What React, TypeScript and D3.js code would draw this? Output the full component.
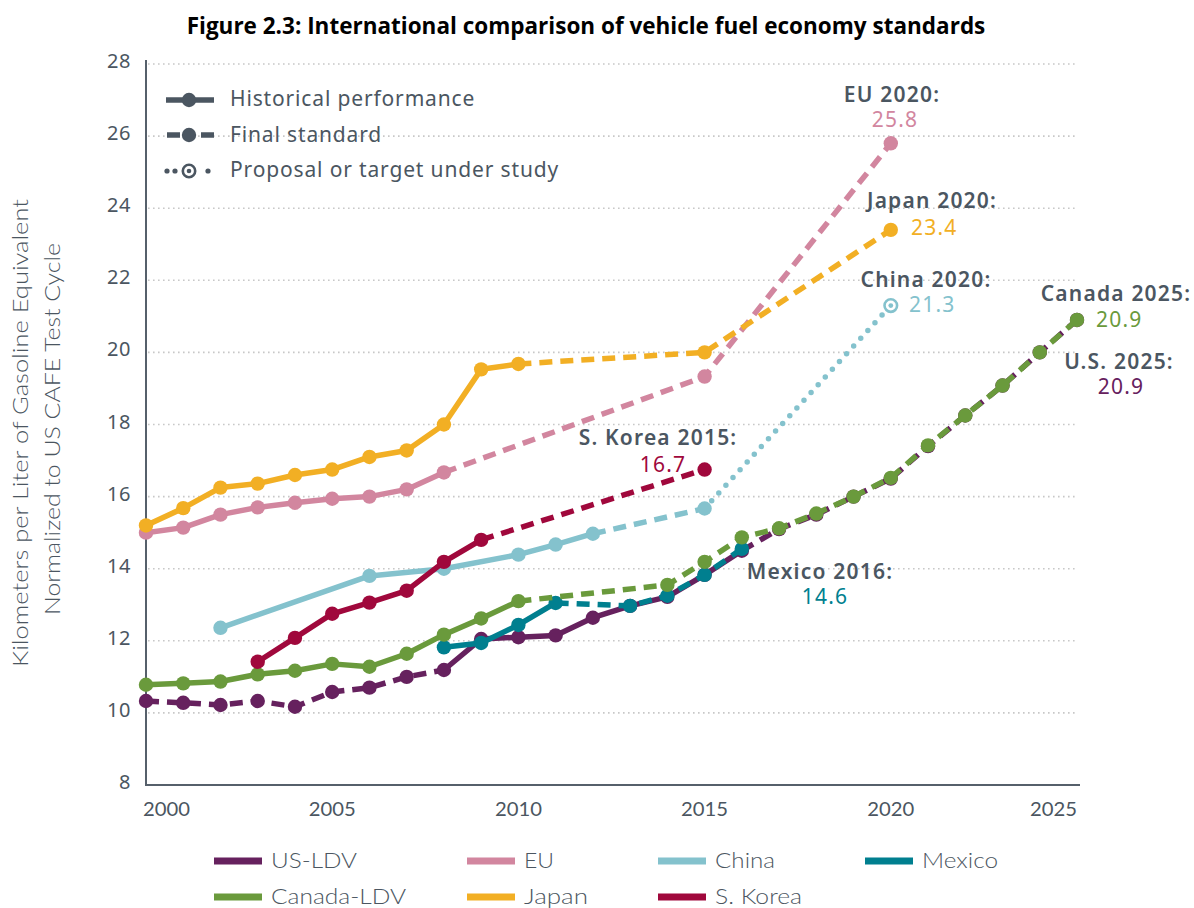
import React from 'react';
import * as d3 from 'd3';

const W = 1194;
const H = 908;

// ---------- data ----------
const usYears = [2000, 2001, 2002, 2003, 2004, 2005, 2006, 2007, 2008, 2009, 2010, 2011, 2012, 2013, 2014, 2015, 2016, 2017, 2018, 2019, 2020, 2021, 2022, 2023, 2024, 2025];
const usValues = [10.33, 10.28, 10.22, 10.33, 10.17, 10.58, 10.7, 11.0, 11.19, 12.05, 12.1, 12.15, 12.64, 12.97, 13.22, 13.83, 14.5, 15.1, 15.5, 16.0, 16.5, 17.4, 18.25, 19.08, 20.0, 20.9];
const usPhases: [string, number, number][] = [['dash', 2000, 2008], ['solid', 2008, 2016], ['dash', 2016, 2025]];

const euYears = [2000, 2001, 2002, 2003, 2004, 2005, 2006, 2007, 2008, 2015, 2020];
const euValues = [15.0, 15.14, 15.5, 15.7, 15.83, 15.94, 16.0, 16.2, 16.67, 19.33, 25.8];
const euPhases: [string, number, number][] = [['solid', 2000, 2008], ['dash', 2008, 2020]];

const chinaYears = [2002, 2006, 2008, 2010, 2011, 2012, 2015, 2020];
const chinaValues = [12.36, 13.8, 14.0, 14.39, 14.67, 14.97, 15.67, 21.3];
const chinaPhases: [string, number, number][] = [['solid', 2002, 2012], ['dash', 2012, 2015], ['dot', 2015, 2020]];

const mexicoYears = [2008, 2009, 2010, 2011, 2013, 2014, 2015, 2016];
const mexicoValues = [11.82, 11.94, 12.44, 13.05, 12.97, 13.25, 13.83, 14.55];
const mexicoPhases: [string, number, number][] = [['solid', 2008, 2011], ['dash', 2011, 2016]];

const canadaYears = [2000, 2001, 2002, 2003, 2004, 2005, 2006, 2007, 2008, 2009, 2010, 2014, 2015, 2016, 2017, 2018, 2019, 2020, 2021, 2022, 2023, 2024, 2025];
const canadaValues = [10.78, 10.82, 10.87, 11.07, 11.17, 11.36, 11.28, 11.64, 12.17, 12.62, 13.1, 13.55, 14.19, 14.87, 15.12, 15.53, 16.0, 16.52, 17.42, 18.25, 19.08, 20.0, 20.9];
const canadaPhases: [string, number, number][] = [['solid', 2000, 2010], ['dash', 2010, 2025]];

const japanYears = [2000, 2001, 2002, 2003, 2004, 2005, 2006, 2007, 2008, 2009, 2010, 2015, 2020];
const japanValues = [15.2, 15.68, 16.25, 16.36, 16.6, 16.75, 17.1, 17.28, 18.0, 19.53, 19.68, 20.0, 23.4];
const japanPhases: [string, number, number][] = [['solid', 2000, 2010], ['dash', 2010, 2020]];

const koreaYears = [2003, 2004, 2005, 2006, 2007, 2008, 2009, 2015];
const koreaValues = [11.42, 12.08, 12.75, 13.06, 13.39, 14.19, 14.8, 16.75];
const koreaPhases: [string, number, number][] = [['solid', 2003, 2009], ['dash', 2009, 2015]];

const yTicks = [8, 10, 12, 14, 16, 18, 20, 22, 24, 26, 28];
const xTicks = [2000, 2005, 2010, 2015, 2020, 2025];

const legendNames = ['US-LDV', 'EU', 'China', 'Mexico', 'Canada-LDV', 'Japan', 'S. Korea'];

const styleNames = ['Historical performance', 'Final standard', 'Proposal or target under study'];

const annotations = [
  { label: 'EU 2020:', value: '25.8', series: 'EU' },
  { label: 'Japan 2020:', value: '23.4', series: 'Japan' },
  { label: 'China 2020:', value: '21.3', series: 'China' },
  { label: 'Canada 2025:', value: '20.9', series: 'Canada-LDV' },
  { label: 'U.S. 2025:', value: '20.9', series: 'US-LDV' },
  { label: 'S. Korea 2015:', value: '16.7', series: 'S. Korea' },
  { label: 'Mexico 2016:', value: '14.6', series: 'Mexico' },
];

// ---------- styling ----------
const COLORS: Record<string, string> = {
  'US-LDV': '#66215e',
  'EU': '#d2869f',
  'China': '#84c2cd',
  'Mexico': '#007f8f',
  'Canada-LDV': '#6a9a3c',
  'Japan': '#f2af24',
  'S. Korea': '#a0083c',
};
const TEXT = '#4b5661';
const AXIS = '#56606b';
const GRID = '#c8c8c8';
const FONT = "'Noto Sans', 'Open Sans', sans-serif";
const COND = "Lato, 'Noto Sans', sans-serif";

type Series = { name: string; years: number[]; values: number[]; phases: [string, number, number][]; ring?: number };

const series: Series[] = [
  { name: 'EU', years: euYears, values: euValues, phases: euPhases },
  { name: 'China', years: chinaYears, values: chinaValues, phases: chinaPhases, ring: 2020 },
  { name: 'US-LDV', years: usYears, values: usValues, phases: usPhases },
  { name: 'Mexico', years: mexicoYears, values: mexicoValues, phases: mexicoPhases },
  { name: 'Canada-LDV', years: canadaYears, values: canadaValues, phases: canadaPhases },
  { name: 'S. Korea', years: koreaYears, values: koreaValues, phases: koreaPhases },
  { name: 'Japan', years: japanYears, values: japanValues, phases: japanPhases },
];

const LW = 5.5;
const R = 7.2;
const dashFor = (s: string) => (s === 'dash' ? '13 8' : s === 'dot' ? '0 10.5' : undefined);

export default function App() {
  const x = d3.scaleLinear().domain([2000, 2025]).range([146, 1077]);
  const y = d3.scaleLinear().domain([8, 28]).range([785, 64]);
  const line = d3
    .line<[number, number]>()
    .x((d) => x(d[0]))
    .y((d) => y(d[1]));

  // annotation placement (layout only)
  const annPos: Record<string, { lx: number; ly: number; vx: number; vy: number; va: string }> = {
    'EU': { lx: 892, ly: 102, vx: 895, vy: 127, va: 'middle' },
    'Japan': { lx: 932, ly: 208, vx: 911, vy: 235, va: 'start' },
    'China': { lx: 926, ly: 287, vx: 909, vy: 312, va: 'start' },
    'Canada-LDV': { lx: 1116, ly: 301, vx: 1096, vy: 327, va: 'start' },
    'US-LDV': { lx: 1119, ly: 369, vx: 1121, vy: 394, va: 'middle' },
    'S. Korea': { lx: 658, ly: 445, vx: 663, vy: 472, va: 'middle' },
    'Mexico': { lx: 820, ly: 579, vx: 825, vy: 604, va: 'middle' },
  };

  const legCols = [214, 467, 658, 865];
  const legRows = [861, 897];
  const legWidths: Record<string, number> = {
    'US-LDV': 86, 'EU': 30, 'China': 60, 'Mexico': 76, 'Canada-LDV': 135, 'Japan': 64, 'S. Korea': 87,
  };

  return (
    <svg width={W} height={H} style={{ position: 'absolute', left: 0, top: 0, background: '#fff' }}>
      <rect width={W} height={H} fill="#fff" />
      {/* title */}
      <text x={586} y={34} textAnchor="middle" fontFamily="'Open Sans', sans-serif" fontWeight={700} fontSize={22.5} fill="#000">
        Figure 2.3: International comparison of vehicle fuel economy standards
      </text>

      {/* gridlines */}
      {yTicks.filter((t) => t > 8).map((t) => (
        <line key={t} x1={148} x2={1078} y1={y(t)} y2={y(t)} stroke={GRID} strokeWidth={1.6} strokeDasharray="1.6 3.4" />
      ))}
      {/* y tick labels */}
      {yTicks.map((t) => (
        <text key={t} x={131} y={y(t) + 4} textAnchor="end" fontFamily={FONT} fontSize={20} letterSpacing={0.6} fill={TEXT}>
          {t}
        </text>
      ))}
      {/* axes */}
      <line x1={146} x2={146} y1={60} y2={786} stroke={AXIS} strokeWidth={2} />
      <line x1={145} x2={1080} y1={785} y2={785} stroke={AXIS} strokeWidth={2} />
      {/* x tick labels */}
      {xTicks.map((t, i) => (
        <text
          key={t}
          x={i === 0 ? x(t) - 3 : x(t)}
          y={816}
          textAnchor={i === 0 ? 'start' : i === xTicks.length - 1 ? 'end' : 'middle'}
          fontFamily={COND}
          fontSize={19.5}
          fill={TEXT}
          textLength={47}
          lengthAdjust="spacingAndGlyphs"
        >
          {t}
        </text>
      ))}

      {/* y axis title */}
      <g fontFamily={COND} fontSize={21} fill={TEXT} fontWeight={300}>
        <text transform="translate(28,433) rotate(-90)" textAnchor="middle" textLength={468} lengthAdjust="spacingAndGlyphs">
          Kilometers per Liter of Gasoline Equivalent
        </text>
        <text transform="translate(60,429) rotate(-90)" textAnchor="middle" textLength={372} lengthAdjust="spacingAndGlyphs">
          Normalized to US CAFE Test Cycle
        </text>
      </g>

      {/* style legend */}
      <g stroke={TEXT} fill={TEXT}>
        <line x1={166} x2={214} y1={100} y2={100} strokeWidth={LW} />
        <circle cx={189} cy={100} r={R} stroke="none" />
        <line x1={167} x2={180} y1={135} y2={135} strokeWidth={LW} />
        <line x1={201} x2={214} y1={135} y2={135} strokeWidth={LW} />
        <circle cx={189} cy={135} r={R} stroke="none" />
        <circle cx={167} cy={171} r={2.6} stroke="none" />
        <circle cx={175} cy={171} r={2.6} stroke="none" />
        <circle cx={189} cy={171} r={6.2} fill="#fff" strokeWidth={2.6} />
        <circle cx={189} cy={171} r={2.3} stroke="none" />
        <circle cx={208} cy={171} r={2.6} stroke="none" />
      </g>
      <g fontFamily={FONT} fontSize={21} letterSpacing={0.85} fill={TEXT}>
        {styleNames.map((s, i) => (
          <text key={s} x={230} y={106 + i * 35.5}>
            {s}
          </text>
        ))}
      </g>

      {/* series */}
      {series.map((s) => {
        const col = COLORS[s.name];
        const pts: [number, number][] = s.years.map((yr, i) => [yr, s.values[i]]);
        return (
          <g key={s.name}>
            {s.phases.map(([st, a, b], k) => {
              const sub = pts.filter((p) => p[0] >= a && p[0] <= b);
              return (
                <path
                  key={k}
                  d={line(sub) || ''}
                  fill="none"
                  stroke={col}
                  strokeWidth={LW}
                  strokeDasharray={dashFor(st)}
                  strokeLinecap={st === 'dot' ? 'round' : 'butt'}
                  strokeLinejoin="round"
                />
              );
            })}
            {pts.map((p) =>
              s.ring === p[0] ? (
                <g key={p[0]}>
                  <circle cx={x(p[0])} cy={y(p[1])} r={6.3} fill="#fff" stroke={col} strokeWidth={2.6} />
                  <circle cx={x(p[0])} cy={y(p[1])} r={2.4} fill={col} />
                </g>
              ) : (
                <circle key={p[0]} cx={x(p[0])} cy={y(p[1])} r={R} fill={col} />
              )
            )}
          </g>
        );
      })}

      {/* annotations */}
      {annotations.map((a) => {
        const p = annPos[a.series];
        return (
          <g key={a.label}>
            <text x={p.lx} y={p.ly} textAnchor="middle" fontFamily={FONT} fontWeight={600} fontSize={21} letterSpacing={1.2} fill={TEXT}>
              {a.label}
            </text>
            <text x={p.vx} y={p.vy} textAnchor={p.va as any} fontFamily={FONT} fontSize={21} letterSpacing={1.2} fill={COLORS[a.series]}>
              {a.value}
            </text>
          </g>
        );
      })}

      {/* bottom legend */}
      {legendNames.map((n, i) => {
        const cx = legCols[i % 4];
        const cy = legRows[Math.floor(i / 4)];
        return (
          <g key={n}>
            <rect x={cx} y={cy - 3.5} width={48} height={7} fill={COLORS[n]} />
            <text
              x={cx + 57}
              y={cy + 7}
              fontFamily={COND}
              fontSize={21}
              fill={TEXT}
              fontWeight={300}
              textLength={legWidths[n]}
              lengthAdjust="spacingAndGlyphs"
            >
              {n}
            </text>
          </g>
        );
      })}
    </svg>
  );
}
